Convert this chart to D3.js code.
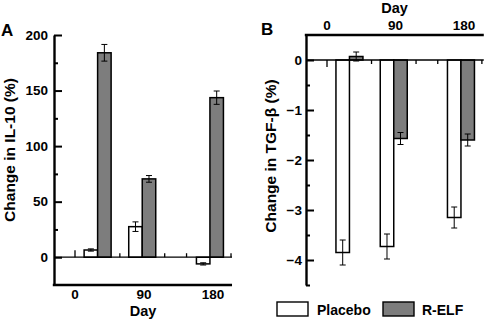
<!DOCTYPE html>
<html><head><meta charset="utf-8">
<script src="https://cdn.jsdelivr.net/npm/d3@7"></script>
<style>
body{margin:0;background:#fff;}
text{font-family:Arial,"Liberation Sans",sans-serif;font-weight:bold;fill:#000;}
</style></head>
<body><svg id="c" width="485" height="321"></svg>
<script>
// ---- data ----
const dayTicks = [0, 90, 180];
const dayLabels = ["0", "90", "180"];
const groupDays = [29.5, 87.7, 176];          // where each group of bars sits on the day axis
const zeroLineTicks = [0, 58.5, 117, 145.5, 203.5];
const series = ["Placebo", "R-ELF"];
const il10Placebo = [6.5, 27.5, -6];
const il10PlaceboErr = [1, 4.3, 1];
const il10Relf = [184, 70.5, 143.6];
const il10RelfErr = [7.5, 3, 6];
const tgfPlacebo = [-3.85, -3.73, -3.15];
const tgfPlaceboErr = [0.25, 0.25, 0.21];
const tgfRelf = [0.07, -1.57, -1.6];
const tgfRelfErr = [0.09, 0.12, 0.12];
const il10Major = [0, 50, 100, 150, 200];
const il10Minor = [25, 75, 125, 175];
const tgfMajor = [0, -1, -2, -3, -4];
const tgfMinor = [-0.5, -1.5, -2.5, -3.5, -4.5];

const svg = d3.select("#c");
const fills = ["#ffffff", "#7d7d7d"];
const barW = 13.5;

function panel(o) {
  const g = svg.append("g");
  const x = d3.scaleLinear().domain([0, 180]).range(o.xr);
  const y = d3.scaleLinear().domain(o.yd).range([285, 35]);
  const x0 = o.axisX, xEnd = x(o.endDay);
  const vals = [o.p, o.r], errs = [o.pe, o.re];
  vals.forEach((arr, s) => {
    arr.forEach((v, i) => {
      const cx = x(groupDays[i]);
      const bx = s === 0 ? cx - barW : cx;
      g.append("rect").attr("x", bx).attr("width", barW)
        .attr("y", Math.min(y(v), y(0))).attr("height", Math.abs(y(v) - y(0)))
        .attr("fill", fills[s]).attr("stroke", "#000").attr("stroke-width", 1.5);
      const ex = bx + barW / 2, e = errs[s][i];
      g.append("line").attr("x1", ex).attr("x2", ex).attr("y1", y(v - e)).attr("y2", y(v + e))
        .attr("stroke", "#000").attr("stroke-width", 1);
      [v - e, v + e].forEach(w => g.append("line").attr("x1", ex - 3).attr("x2", ex + 3)
        .attr("y1", y(w)).attr("y2", y(w)).attr("stroke", "#000").attr("stroke-width", 1));
    });
  });
  g.append("line").attr("x1", x0).attr("x2", xEnd).attr("y1", y(0)).attr("y2", y(0))
    .attr("stroke", "#000").attr("stroke-width", 1.3);
  zeroLineTicks.forEach((d, i) => {
    const len = i === 0 ? 7 : 4;
    g.append("line").attr("x1", x(d)).attr("x2", x(d)).attr("y1", y(0))
      .attr("y2", y(0) + o.zdir * len).attr("stroke", "#000").attr("stroke-width", 1.3);
  });
  const ya = g.append("g").attr("transform", `translate(${x0},0)`)
    .call(d3.axisLeft(y).tickValues(o.major).tickSizeInner(-8).tickSizeOuter(0).tickPadding(o.pad)
      .tickFormat(d3.format("d")));
  ya.select(".domain").attr("stroke-width", 2.4);
  ya.selectAll(".tick line").attr("stroke-width", 2);
  ya.selectAll(".tick text").style("font-size", "13.5px").style("font-family", "Arial, 'Liberation Sans'").style("font-weight", "bold");
  const ym = g.append("g").attr("transform", `translate(${x0},0)`)
    .call(d3.axisLeft(y).tickValues(o.minor).tickSizeInner(-4).tickSizeOuter(0).tickFormat(""));
  ym.select(".domain").remove();
  ym.selectAll(".tick line").attr("stroke-width", 2);
  const fy = o.frameY;
  g.append("line").attr("x1", x0 - 1.2).attr("x2", xEnd).attr("y1", fy).attr("y2", fy)
    .attr("stroke", "#000").attr("stroke-width", 2.4);
  dayTicks.forEach((d, i) => g.append("text").attr("x", x(d)).attr("y", o.labY)
    .attr("text-anchor", "middle").style("font-size", "13.5px").text(dayLabels[i]));
  g.append("text").attr("x", x(90) - 1).attr("y", o.dayY).attr("text-anchor", "middle")
    .style("font-size", "14.5px").text("Day");
  g.append("text").attr("transform", `translate(${o.titleX},${o.titleY}) rotate(-90)`)
    .attr("text-anchor", "middle").style("font-size", "15.5px").text(o.title);
  g.append("text").attr("x", o.letterX).attr("y", o.letterY).style("font-size", "17px").text(o.letter);
}

panel({xr: [75, 213], yd: [-25, 200], axisX: 54, endDay: 204.8, p: il10Placebo, pe: il10PlaceboErr,
  r: il10Relf, re: il10RelfErr, zdir: -1, major: il10Major, minor: il10Minor, pad: 6,
  frameY: 285, labY: 299, dayY: 316, title: "Change in IL-10 (%)", titleX: 15, titleY: 150,
  letter: "A", letterX: 1, letterY: 36});

panel({xr: [327, 464], yd: [-4.5, 0.5], axisX: 306, endDay: 206, p: tgfPlacebo, pe: tgfPlaceboErr,
  r: tgfRelf, re: tgfRelfErr, zdir: 1, major: tgfMajor, minor: tgfMinor, pad: 4,
  frameY: 35, labY: 30, dayY: 13, title: "Change in TGF-\u03b2 (%)", titleX: 276, titleY: 156,
  letter: "B", letterX: 261, letterY: 35});

const lg = svg.append("g");
const lx = [277, 383], tx = [317, 422];
series.forEach((s, i) => {
  lg.append("rect").attr("x", lx[i]).attr("y", 302).attr("width", 31).attr("height", 14)
    .attr("fill", fills[i]).attr("stroke", "#000").attr("stroke-width", 1.4);
  lg.append("text").attr("x", tx[i]).attr("y", 315).style("font-size", "14px").text(s);
});
</script></body></html>
